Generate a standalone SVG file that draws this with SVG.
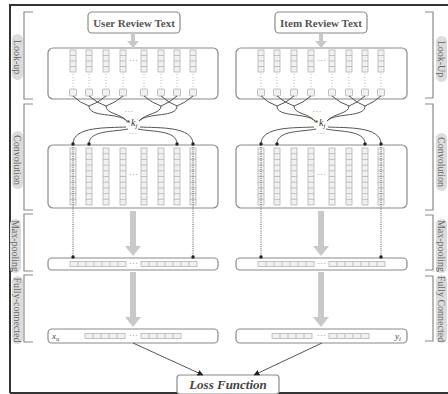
<svg xmlns="http://www.w3.org/2000/svg" xmlns:xlink="http://www.w3.org/1999/xlink" width="448" height="394" viewBox="0 0 448 394">
  <style>
    text { font-family: "Liberation Serif", "Times New Roman", serif; }
    .box { fill: #ffffff; stroke: #8a8a8a; stroke-width: 1.2; }
    .cell { fill: #f1f1f1; stroke: #b4b4b4; stroke-width: 0.8; }
    .cellLine { fill: none; stroke: #b4b4b4; stroke-width: 0.8; }
    .dots { fill: none; stroke: #b0b0b0; stroke-width: 0.9; stroke-dasharray: 1 2; }
    .title { font-size: 11px; font-weight: bold; fill: #555555; }
    .ellip { font-size: 9px; fill: #888888; }
    .link { fill: none; stroke: #555555; stroke-width: 1; }
    .drop { fill: none; stroke: #444444; stroke-width: 0.9; stroke-dasharray: 1 1.2; }
    .fat { fill: #c9c9c9; }
    .bracket { fill: none; stroke: #8a8a8a; stroke-width: 1.2; }
    .pill { fill: #dcdcdc; }
    .side { font-size: 10px; fill: #666666; }
    .frame { fill: none; stroke: #333333; stroke-width: 2; }
  </style>
  <defs>
    <marker id="dot" viewBox="0 0 4 4" refX="2" refY="2" markerWidth="4" markerHeight="4" markerUnits="userSpaceOnUse">
      <circle cx="2" cy="2" r="1.7" fill="#222222"/>
    </marker>
    <marker id="tri" viewBox="0 0 6 6" refX="5.5" refY="3" markerWidth="6" markerHeight="6" orient="auto" markerUnits="userSpaceOnUse">
      <path d="M0,0 L6,3 L0,6 Z" fill="#222222"/>
    </marker>

    <!-- one word column of the embedding lookup -->
    <g id="lkCol">
      <rect x="-3" y="50" width="6" height="22" class="cell"/>
      <path d="M-3,55.5H3M-3,61H3M-3,66.5H3" class="cellLine"/>
      <path d="M0,74V88" class="dots"/>
      <rect x="-3.5" y="89" width="7" height="7" rx="1" class="cell"/>
    </g>
    <g id="lkCols">
      <use xlink:href="#lkCol" x="73"/>
      <use xlink:href="#lkCol" x="89"/>
      <use xlink:href="#lkCol" x="106"/>
      <use xlink:href="#lkCol" x="123"/>
      <use xlink:href="#lkCol" x="144"/>
      <use xlink:href="#lkCol" x="161"/>
      <use xlink:href="#lkCol" x="177"/>
      <use xlink:href="#lkCol" x="193"/>
      <text x="133.5" y="63" text-anchor="middle" class="ellip">···</text>
    </g>

    <!-- one feature map of the convolution layer -->
    <g id="cvCol">
      <rect x="-3" y="148" width="6" height="57" class="cell"/>
      <path d="M-3,153.7H3M-3,159.4H3M-3,165.1H3M-3,170.8H3M-3,176.5H3M-3,182.2H3M-3,187.9H3M-3,193.6H3M-3,199.3H3" class="cellLine"/>
    </g>
    <g id="cvCols">
      <use xlink:href="#cvCol" x="73"/>
      <use xlink:href="#cvCol" x="89"/>
      <use xlink:href="#cvCol" x="106"/>
      <use xlink:href="#cvCol" x="123"/>
      <use xlink:href="#cvCol" x="144"/>
      <use xlink:href="#cvCol" x="161"/>
      <use xlink:href="#cvCol" x="177"/>
      <use xlink:href="#cvCol" x="193"/>
      <text x="133.5" y="177" text-anchor="middle" class="ellip">···</text>
    </g>

    <g id="row7">
      <rect x="0" y="0" width="56" height="5" class="cell"/>
      <path d="M8,0V5M16,0V5M24,0V5M32,0V5M40,0V5M48,0V5" class="cellLine"/>
    </g>
    <g id="row5">
      <rect x="0" y="0" width="40" height="5" class="cell"/>
      <path d="M8,0V5M16,0V5M24,0V5M32,0V5" class="cellLine"/>
    </g>

    <!-- links inside one tower: windows, kernel, feature maps, pooling -->
    <g id="towerLinks">
      <path d="M131,34H135V41H139L133,48L127,41H131Z" class="fat"/>
      <path d="M130,211H136V246H141L133,256L125,246H130Z" class="fat"/>
      <path d="M130,272H136V317H141L133,327L125,317H130Z" class="fat"/>

      <path d="M73,96Q80,103 89,106M106,96Q98,103 89,106M89,96Q97,103 106,106M123,96Q115,103 106,106" class="link"/>
      <path d="M144,96Q152,103 161,106M177,96Q169,103 161,106M161,96Q169,103 177,106M193,96Q185,103 177,106" class="link"/>
      <path d="M89,106C89,118 118,112 127,121M106,106C106,114 120,113 127,121" class="link"/>
      <path d="M177,106C177,118 148,112 139,121M161,106C161,114 146,113 139,121" class="link"/>
      <text x="129" y="114" text-anchor="middle" class="ellip">···</text>

      <text x="126" y="125.5" font-size="9" fill="#333333">*</text>
      <text x="131" y="126" font-size="10" font-style="italic" fill="#333333">k<tspan font-size="7" dy="2">j</tspan></text>

      <path d="M126,127C108,128 73,126 73,144" class="link" marker-end="url(#dot)"/>
      <path d="M128,129C114,132 89,130 89,144" class="link" marker-end="url(#dot)"/>
      <path d="M140,127C158,128 193,126 193,144" class="link" marker-end="url(#dot)"/>
      <path d="M138,129C152,132 177,130 177,144" class="link" marker-end="url(#dot)"/>
      <text x="133" y="136" text-anchor="middle" class="ellip">···</text>

      <path d="M73,147V257" class="drop" marker-end="url(#dot)"/>
      <path d="M193,147V257" class="drop" marker-end="url(#dot)"/>
    </g>
  </defs>

  <rect width="448" height="394" fill="#ffffff"/>

  <!-- outer frame -->
  <path d="M10,393V5H448M10,393H448" class="frame"/>

  <!-- layer brackets and names -->
  <g id="layer-labels">
    <path d="M33,12H24V99H33M33,104H24V210H33M33,214H24V271H33M33,275H24V342H33" class="bracket"/>
    <path d="M425,12H433V98H425M425,104H433V210H425M425,215H433V270H425M425,276H433V341H425" class="bracket"/>

    <g transform="translate(17,57) rotate(90)">
      <rect x="-23" y="-6" width="46" height="11" rx="5.5" class="pill"/>
      <text x="0" y="3" text-anchor="middle" class="side">Look-up</text>
    </g>
    <g transform="translate(17,160) rotate(90)">
      <rect x="-29" y="-6" width="58" height="11" rx="5.5" class="pill"/>
      <text x="0" y="3" text-anchor="middle" class="side">Convolution</text>
    </g>
    <g transform="translate(15,246) rotate(90)">
      <rect x="-27" y="-6" width="54" height="11" rx="5.5" class="pill"/>
      <text x="0" y="3" text-anchor="middle" class="side">Max-pooling</text>
    </g>
    <g transform="translate(17,310) rotate(90)">
      <rect x="-34" y="-6" width="68" height="11" rx="5.5" class="pill"/>
      <text x="0" y="3" text-anchor="middle" class="side">Fully-connected</text>
    </g>

    <g transform="translate(441,59) rotate(90)">
      <rect x="-23" y="-6" width="46" height="11" rx="5.5" class="pill"/>
      <text x="0" y="3" text-anchor="middle" class="side">Look-Up</text>
    </g>
    <g transform="translate(441,162) rotate(90)">
      <rect x="-29" y="-6" width="58" height="11" rx="5.5" class="pill"/>
      <text x="0" y="3" text-anchor="middle" class="side">Convolution</text>
    </g>
    <g transform="translate(441,246) rotate(90)">
      <rect x="-27" y="-6" width="54" height="11" rx="5.5" class="pill"/>
      <text x="0" y="3" text-anchor="middle" class="side">Max-pooling</text>
    </g>
    <g transform="translate(441,309) rotate(90)">
      <rect x="-34" y="-6" width="68" height="11" rx="5.5" class="pill"/>
      <text x="0" y="3" text-anchor="middle" class="side">Fully Connected</text>
    </g>
  </g>

  <!-- user tower -->
  <g id="user-text">
    <rect x="88" y="12" width="92" height="21" rx="4" class="box"/>
    <text x="134" y="26.5" text-anchor="middle" class="title">User Review Text</text>
  </g>
  <g id="user-lookup">
    <rect x="48" y="48" width="170" height="51" rx="5" class="box"/>
    <use xlink:href="#lkCols"/>
  </g>
  <g id="user-conv">
    <rect x="48" y="145" width="170" height="63" rx="5" class="box"/>
    <use xlink:href="#cvCols"/>
  </g>
  <g id="user-maxpool">
    <rect x="48" y="258" width="170" height="12" rx="4" class="box"/>
    <use xlink:href="#row7" x="70" y="261.5"/>
    <use xlink:href="#row7" x="141" y="261.5"/>
    <text x="133.5" y="266" text-anchor="middle" class="ellip">···</text>
  </g>
  <g id="user-fc">
    <rect x="48" y="329" width="170" height="14" rx="4" class="box"/>
    <use xlink:href="#row5" x="85" y="333.5"/>
    <use xlink:href="#row5" x="141" y="333.5"/>
    <text x="133.5" y="338" text-anchor="middle" class="ellip">···</text>
    <text x="52" y="339" font-size="9" font-style="italic" fill="#444444">x<tspan font-size="6.5" dy="1.5">u</tspan></text>
  </g>

  <!-- item tower -->
  <g id="item-text">
    <rect x="275" y="12" width="92" height="21" rx="4" class="box"/>
    <text x="321" y="26.5" text-anchor="middle" class="title">Item Review Text</text>
  </g>
  <g id="item-lookup" transform="translate(188,0)">
    <rect x="48" y="48" width="171" height="51" rx="5" class="box"/>
    <use xlink:href="#lkCols"/>
  </g>
  <g id="item-conv" transform="translate(188,0)">
    <rect x="48" y="145" width="171" height="63" rx="5" class="box"/>
    <use xlink:href="#cvCols"/>
  </g>
  <g id="item-maxpool" transform="translate(188,0)">
    <rect x="48" y="258" width="171" height="12" rx="4" class="box"/>
    <use xlink:href="#row7" x="70" y="261.5"/>
    <use xlink:href="#row7" x="141" y="261.5"/>
    <text x="133.5" y="266" text-anchor="middle" class="ellip">···</text>
  </g>
  <g id="item-fc" transform="translate(188,0)">
    <rect x="48" y="329" width="171" height="14" rx="4" class="box"/>
    <use xlink:href="#row5" x="84" y="333.5"/>
    <use xlink:href="#row5" x="141" y="333.5"/>
    <text x="133.5" y="338" text-anchor="middle" class="ellip">···</text>
    <text x="207" y="339" font-size="9" font-style="italic" fill="#444444">y<tspan font-size="6.5" dy="1.5">i</tspan></text>
  </g>

  <!-- loss -->
  <g id="loss">
    <rect x="177" y="375" width="102" height="19" rx="3" class="box"/>
    <text x="228" y="389" text-anchor="middle" font-size="13" font-weight="bold" font-style="italic" fill="#444444">Loss Function</text>
  </g>

  <!-- connectors -->
  <g id="connectors">
    <use xlink:href="#towerLinks"/>
    <use xlink:href="#towerLinks" transform="translate(188,0)"/>
    <path d="M133,343L203,375" class="link" marker-end="url(#tri)"/>
    <path d="M322,343L254,375" class="link" marker-end="url(#tri)"/>
  </g>
</svg>
